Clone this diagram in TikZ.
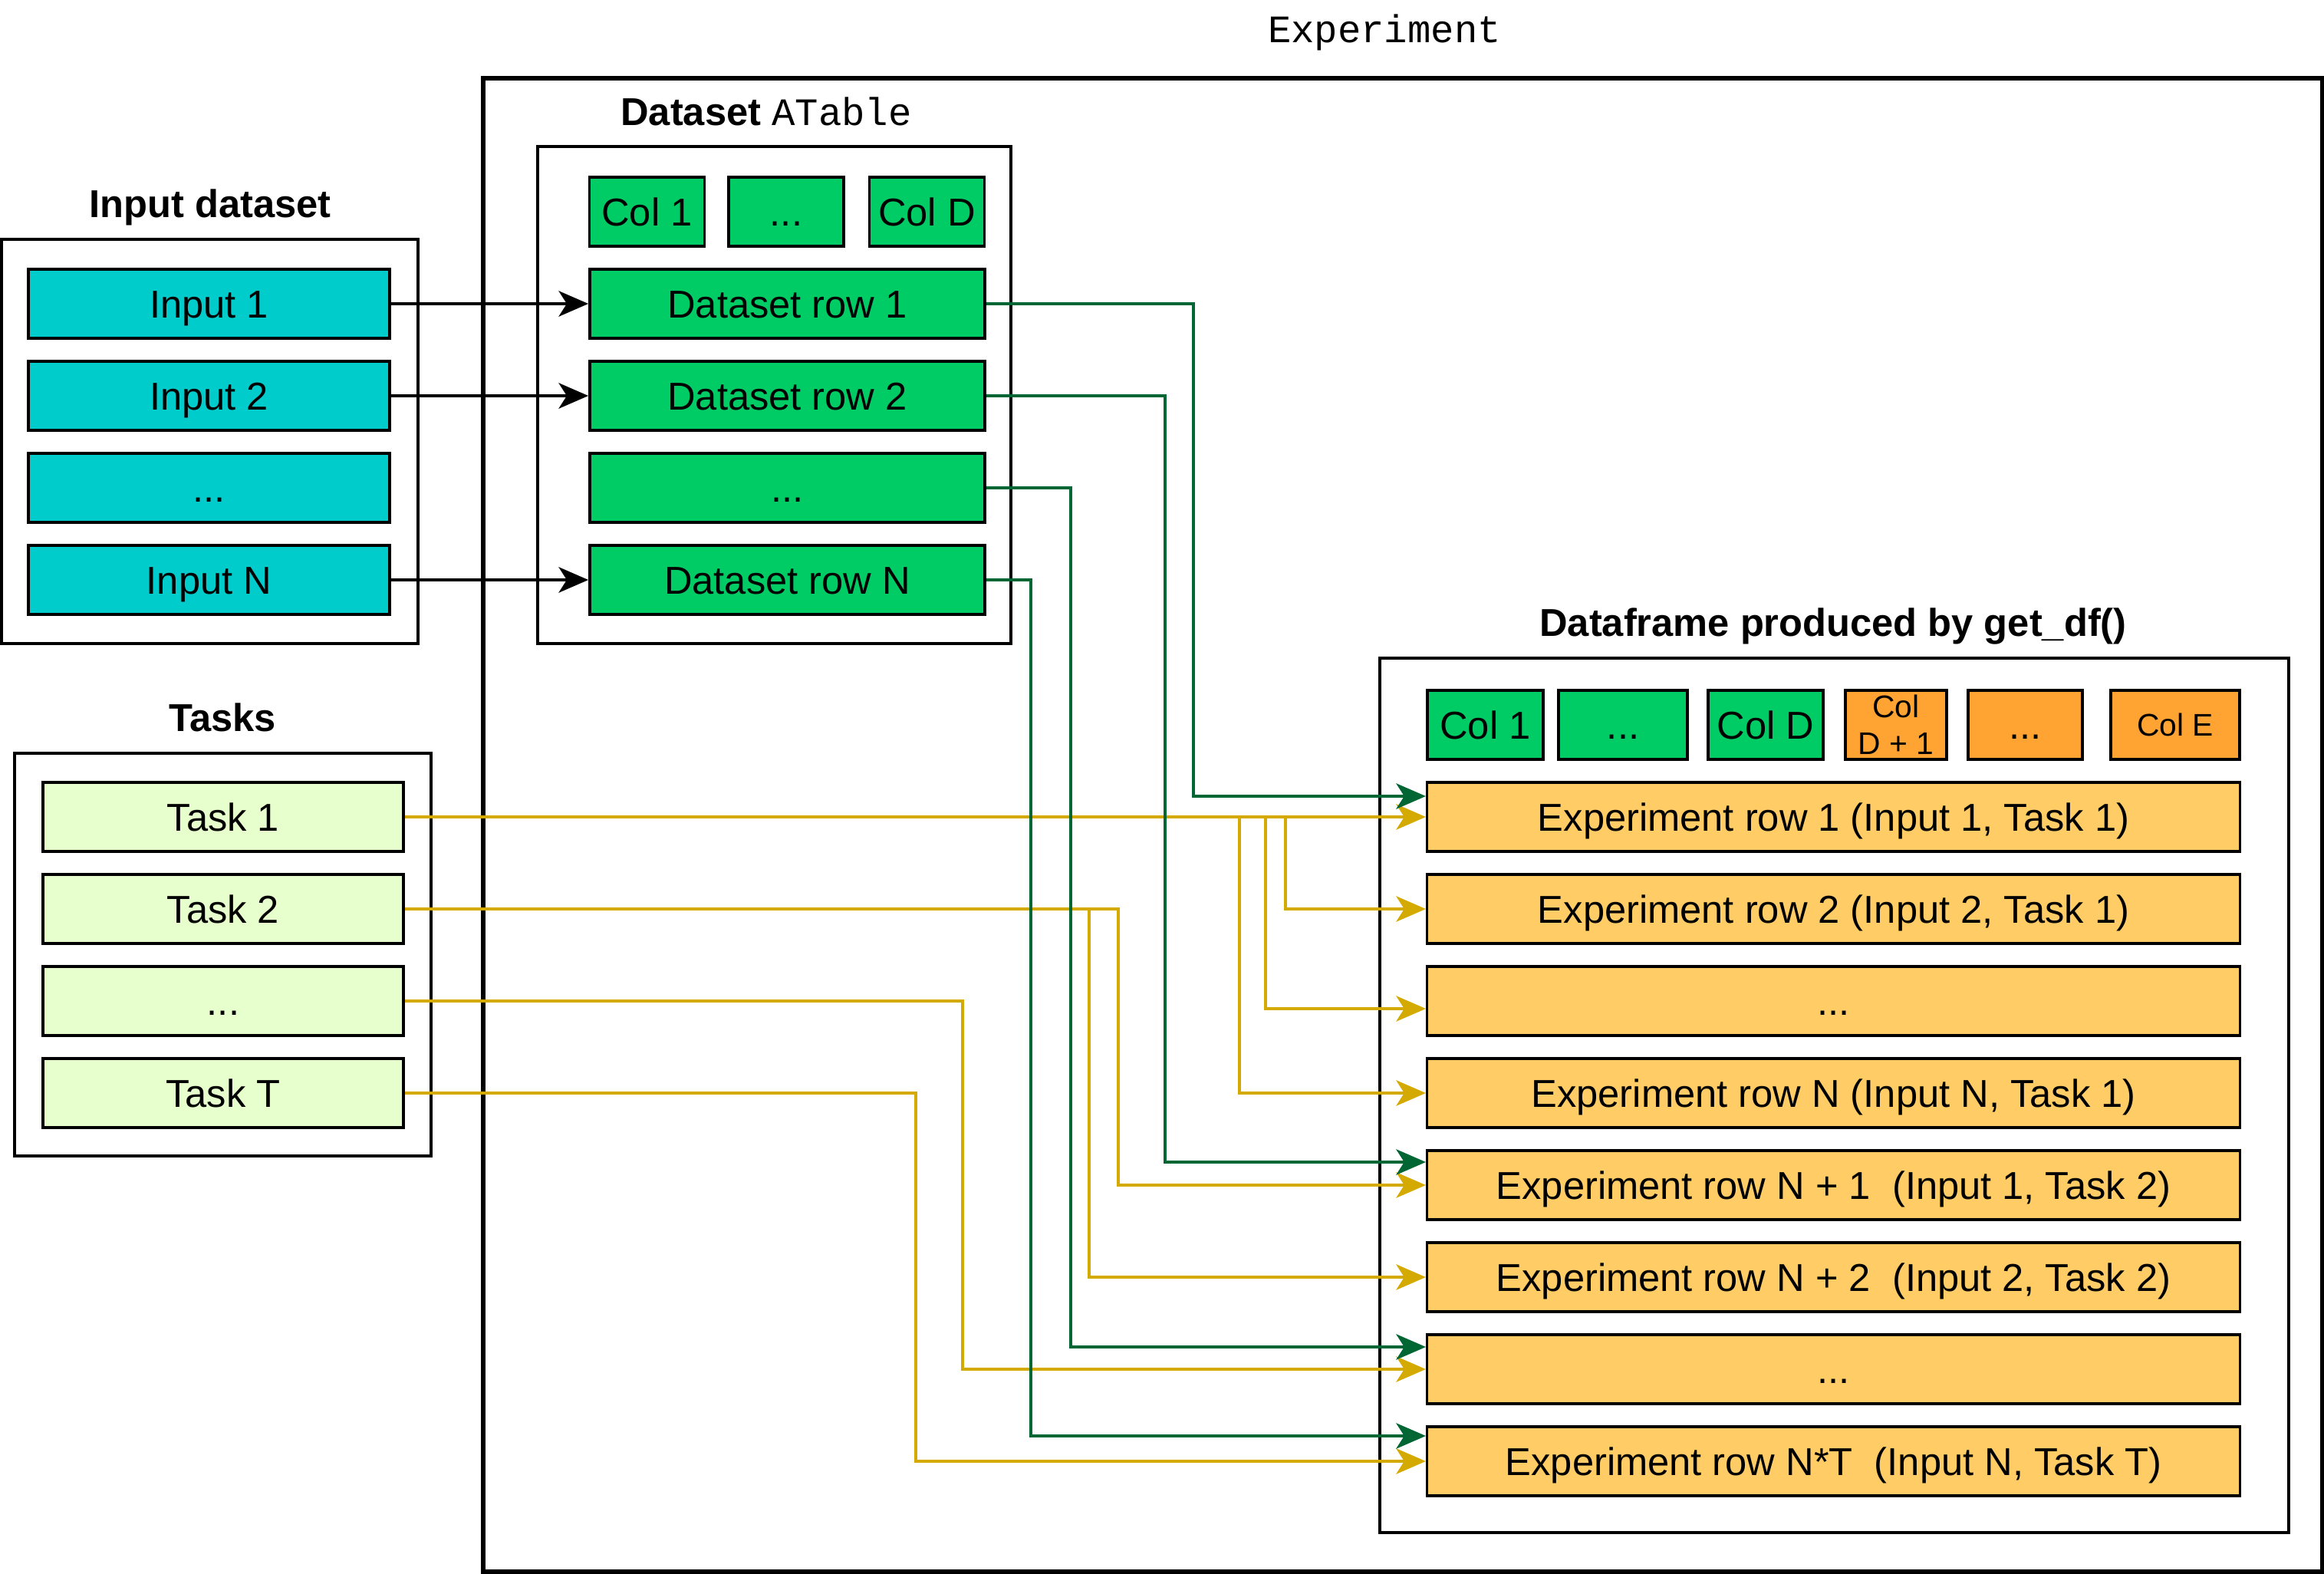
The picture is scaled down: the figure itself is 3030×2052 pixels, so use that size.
\documentclass[tikz,border=0pt]{standalone}
\usepackage{fontspec}
\setmainfont{Liberation Sans}
\setmonofont{Liberation Mono}
\usetikzlibrary{arrows.meta}
\definecolor{incyan}{HTML}{00CCCC}
\definecolor{dsgreen}{HTML}{00CC66}
\definecolor{tasklime}{HTML}{E6FFCC}
\definecolor{rowamber}{HTML}{FFCC66}
\definecolor{colorange}{HTML}{FFA333}
\definecolor{linkgreen}{HTML}{006633}
\definecolor{linkgold}{HTML}{D4AA00}
\tikzset{
  cell/.style={draw, line width=1pt, minimum height=0.9cm, inner sep=0pt, text height=10.3pt, text depth=0pt},
  inrow/.style={cell, fill=incyan, minimum width=4.71cm},
  dsrow/.style={cell, fill=dsgreen, minimum width=5.15cm},
  dscol/.style={cell, fill=dsgreen, minimum width=1.5cm},
  taskrow/.style={cell, fill=tasklime, minimum width=4.7cm},
  exprow/.style={cell, fill=rowamber, minimum width=10.59cm},
  newcol/.style={cell, fill=colorange},
  smalltext/.style={font=\fontsize{11.6}{13.6}\selectfont, text height=8.3pt},
  frame/.style={draw, line width=1pt},
  title/.style={anchor=base, font=\fontsize{14.4}{17.3}\selectfont\bfseries},
  blink/.style={->, line width=0.95pt},
  glink/.style={->, line width=0.95pt, draw=linkgreen},
  ylink/.style={->, line width=0.95pt, draw=linkgold}
}
\begin{document}
\begin{tikzpicture}[line join=miter,x=0.01cm,y=-0.01cm,>={Stealth[length=11pt,width=9.5pt,inset=3pt]},font=\fontsize{14.4}{17.3}\selectfont]
\useasboundingbox (0,0) rectangle (3030,2052);

% frames
\draw [line width=1.7pt] (630,102) rectangle (3028,2049);
\draw [frame] (2,312) rectangle (545,839);
\draw [frame] (701,191) rectangle (1318,839);
\draw [frame] (19,982) rectangle (562,1507);
\draw [frame] (1799,858) rectangle (2984,1998);

\node [anchor=base] (exptitle) at (1805,56) {\ttfamily Experiment};
\node [title] (dstitle) at (999,164) {Dataset \mdseries\ttfamily ATable};
\node [title] (intitle) at (274,284) {Input dataset};
\node [title] (tasktitle) at (290,953) {Tasks};
\node [title] (dftitle) at (2390,829) {Dataframe produced by get\_df()};

% input dataset
\node [inrow] (in1) at (272.5,396) {Input 1};
\node [inrow] (in2) at (272.5,516) {Input 2};
\node [inrow] (in3) at (272.5,636) {...};
\node [inrow] (in4) at (272.5,756) {Input N};

% dataset table
\node [dscol] (dc1) at (843.5,276) {Col 1};
\node [dscol] (dc2) at (1025,276) {...};
\node [dscol] (dc3) at (1208.5,276) {Col D};
\node [dsrow] (dr1) at (1026.5,396) {Dataset row 1};
\node [dsrow] (dr2) at (1026.5,516) {Dataset row 2};
\node [dsrow] (dr3) at (1026.5,636) {...};
\node [dsrow] (dr4) at (1026.5,756) {Dataset row N};

% tasks
\node [taskrow] (t1) at (291,1065) {Task 1};
\node [taskrow] (t2) at (291,1185) {Task 2};
\node [taskrow] (t3) at (291,1305) {...};
\node [taskrow] (t4) at (291,1425) {Task T};

% dataframe
\node [dscol, minimum width=1.51cm] (fc1) at (1936.5,945) {Col 1};
\node [dscol, minimum width=1.68cm] (fc2) at (2116,945) {...};
\node [dscol] (fc3) at (2302,945) {Col D};
\node [newcol, smalltext, minimum width=1.32cm, text height=, align=center] (fc4) at (2472,945) {Col\\D + 1};
\node [newcol, minimum width=1.49cm] (fc5) at (2640.5,945) {...};
\node [newcol, smalltext, minimum width=1.68cm] (fc6) at (2836,945) {Col E};
\node [exprow] (er1) at (2390.5,1065) {Experiment row 1 (Input 1, Task 1)};
\node [exprow] (er2) at (2390.5,1185) {Experiment row 2 (Input 2, Task 1)};
\node [exprow] (er3) at (2390.5,1305) {...};
\node [exprow] (er4) at (2390.5,1425) {Experiment row N (Input N, Task 1)};
\node [exprow] (er5) at (2390.5,1545) {Experiment row N + 1~~(Input 1, Task 2)};
\node [exprow] (er6) at (2390.5,1665) {Experiment row N + 2~~(Input 2, Task 2)};
\node [exprow] (er7) at (2390.5,1785) {...};
\node [exprow] (er8) at (2390.5,1905) {Experiment row N*T~~(Input N, Task T)};

% inputs to dataset rows
\draw [blink] (in1.east) -- (dr1.west);
\draw [blink] (in2.east) -- (dr2.west);
\draw [blink] (in4.east) -- (dr4.west);

% tasks to experiment rows
\draw [ylink] (t1.east) -- (er1.west);
\draw [ylink] (t1.east) -- ++(1148,0) |- (er2.west);
\draw [ylink] (t1.east) -- ++(1122,0) |- ([yshift=-0.1cm]er3.west);
\draw [ylink] (t1.east) -- ++(1088,0) |- (er4.west);
\draw [ylink] (t2.east) -- ++(930,0) |- (er5.west);
\draw [ylink] (t2.east) -- ++(892,0) |- (er6.west);
\draw [ylink] (t3.east) -- ++(727,0) |- (er7.west);
\draw [ylink] (t4.east) -- ++(666,0) |- (er8.west);

% dataset rows to experiment rows
\draw [glink] (dr1.east) -- ++(270,0) |- ([yshift=0.27cm]er1.west);
\draw [glink] (dr2.east) -- ++(233,0) |- ([yshift=0.3cm]er5.west);
\draw [glink] (dr3.east) -- ++(110,0) |- ([yshift=0.29cm]er7.west);
\draw [glink] (dr4.east) -- ++(58,0) |- ([yshift=0.33cm]er8.west);
\end{tikzpicture}
\end{document}
